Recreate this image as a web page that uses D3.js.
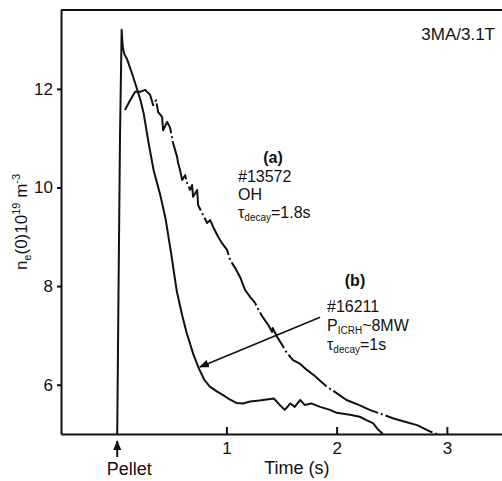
<html>
<head>
<title>Pellet density decay</title>
<script src="https://d3js.org/d3.v7.min.js" charset="utf-8"></script>
<style type="text/css">
    body { margin: 0; background: #fff; }
    text { font-family: "Liberation Sans", Arial, sans-serif; fill: #111; }
</style>
</head>
<body>
<div id="chart"></div>
<script>
    // (a) #13572 OH discharge, dash-dot curve
    var timeA = [0.08,0.127,0.172,0.218,0.263,0.308,0.336,0.363,0.381,0.417,0.426,0.463,0.49,0.517,0.553,0.562,0.58,0.599,0.626,0.644,0.671,0.689,0.698,0.735,0.744,0.78,0.825,0.853,0.88,0.925,0.961,1.007,1.034,1.079,1.125,1.17,1.215,1.26,1.29,1.33,1.38,1.415,1.42,1.46,1.505,1.55,1.605,1.67,1.73,1.8,1.85,1.91,2.0,2.09,2.2,2.3,2.4,2.51,2.62,2.73,2.85,2.91];
    var densA = [11.57,11.77,11.94,11.94,11.98,11.88,11.67,11.77,11.53,11.43,11.16,11.33,11.21,10.90,10.62,10.50,10.35,10.15,10.25,10.09,9.95,10.05,9.81,9.95,9.64,9.48,9.28,9.34,9.20,9.0,8.87,8.73,8.53,8.37,8.18,7.92,7.78,7.66,7.52,7.37,7.21,7.07,7.15,6.97,6.81,6.64,6.50,6.42,6.30,6.18,6.08,5.96,5.83,5.69,5.59,5.49,5.41,5.32,5.25,5.18,5.05,5.0];

    // (b) #16211 ICRH discharge, solid curve
    var timeB = [0.01,0.02,0.035,0.05,0.06,0.075,0.1,0.155,0.22,0.25,0.29,0.34,0.4,0.45,0.5,0.55,0.6,0.64,0.7,0.75,0.8,0.85,0.91,0.97,1.03,1.09,1.15,1.215,1.3,1.43,1.48,1.53,1.58,1.62,1.67,1.71,1.77,1.85,1.94,2.0,2.12,2.21,2.27,2.33,2.38,2.42];
    var densB = [5.0,7.5,11.0,13.2,12.85,12.7,12.6,12.24,11.78,11.5,10.96,10.35,9.85,9.35,8.65,7.9,7.4,7.05,6.62,6.33,6.1,5.96,5.87,5.79,5.7,5.63,5.62,5.66,5.68,5.72,5.6,5.49,5.62,5.55,5.69,5.59,5.62,5.55,5.49,5.43,5.39,5.35,5.28,5.22,5.08,5.0];

    var xTicks = [1, 2, 3];
    var yTicks = [6, 8, 10, 12];
    // arrow from label (b) to curve (b): [time, density]
    var arrowFrom = [1.85, 7.37];
    var arrowTo = [0.76, 6.36];

    var margin = { top: 10, right: 0, bottom: 47, left: 61 };
    var width = 502 - margin.left - margin.right;
    var height = 481 - margin.top - margin.bottom;

    var xScale = d3.scaleLinear().domain([-0.5, 3.5]).range([0, width]);
    var yScale = d3.scaleLinear().domain([5, 13.6]).range([height, 0]);

    var svg = d3.select('#chart').append('svg')
        .attr('width', 502)
        .attr('height', 481);

    svg.append('defs').append('marker')
        .attr('id', 'head')
        .attr('viewBox', '0 0 10 10')
        .attr('refX', 9).attr('refY', 5)
        .attr('markerWidth', 10).attr('markerHeight', 10)
        .attr('markerUnits', 'userSpaceOnUse')
        .attr('orient', 'auto')
        .append('path')
        .attr('d', 'M0,1 L10,5 L0,9 Z')
        .style('fill', '#111');

    var g = svg.append('g')
        .attr('transform', 'translate(' + margin.left + ',' + margin.top + ')');

    // top frame line
    g.append('line')
        .attr('x1', 0).attr('x2', width)
        .attr('y1', 0).attr('y2', 0)
        .style('stroke', '#111').style('stroke-width', 2);

    var line = d3.line()
        .x(function(d){ return xScale(d[0]); })
        .y(function(d){ return yScale(d[1]); });

    var seriesA = timeA.map(function(t, i){ return [t, densA[i]]; });
    var seriesB = timeB.map(function(t, i){ return [t, densB[i]]; });

    g.append('path')
        .datum(seriesA)
        .attr('d', line)
        .style('fill', 'none')
        .style('stroke', '#111')
        .style('stroke-width', 2)
        .style('stroke-linejoin', 'round')
        .style('stroke-dasharray', '50,3,2,3');

    g.append('path')
        .datum(seriesB)
        .attr('d', line)
        .style('fill', 'none')
        .style('stroke', '#111')
        .style('stroke-width', 2)
        .style('stroke-linejoin', 'round');

    // axes
    var yAxis = d3.axisLeft(yScale)
        .tickValues(yTicks)
        .tickFormat(d3.format('d'))
        .tickSizeInner(4)
        .tickSizeOuter(0)
        .tickPadding(4);
    var yGuide = g.append('g').call(yAxis);

    var xAxis = d3.axisBottom(xScale)
        .tickValues(xTicks)
        .tickFormat(d3.format('d'))
        .tickSizeInner(-7)
        .tickSizeOuter(0)
        .tickPadding(8);
    var xGuide = g.append('g')
        .attr('transform', 'translate(0,' + height + ')')
        .call(xAxis);

    [yGuide, xGuide].forEach(function(a){
        a.select('.domain').style('stroke', '#111').style('stroke-width', 2);
        a.selectAll('.tick line').style('stroke', '#111').style('stroke-width', 2);
        a.selectAll('.tick text')
            .style('font-family', '"Liberation Sans", Arial, sans-serif')
            .style('font-size', '17px')
            .style('fill', '#111');
    });

    // pellet arrow under the axis
    g.append('line')
        .attr('x1', xScale(0.01)).attr('x2', xScale(0.01))
        .attr('y1', height + 23).attr('y2', height + 7)
        .style('stroke', '#111').style('stroke-width', 2)
        .attr('marker-end', 'url(#head)');
    g.append('text')
        .attr('x', xScale(0.12)).attr('y', height + 41)
        .attr('text-anchor', 'middle')
        .style('font-size', '18px')
        .text('Pellet');

    g.append('text')
        .attr('x', xScale(1.64)).attr('y', height + 40)
        .attr('text-anchor', 'middle')
        .style('font-size', '18px')
        .text('Time (s)');

    // arrow to curve (b)
    g.append('line')
        .attr('x1', xScale(arrowFrom[0])).attr('y1', yScale(arrowFrom[1]))
        .attr('x2', xScale(arrowTo[0])).attr('y2', yScale(arrowTo[1]))
        .style('stroke', '#111').style('stroke-width', 1.6)
        .attr('marker-end', 'url(#head)');

    // y label
    var yl = svg.append('text')
        .attr('transform', 'translate(27,222) rotate(-90)')
        .attr('text-anchor', 'middle')
        .style('font-size', '17px');
    yl.append('tspan').text('n');
    yl.append('tspan').attr('dy', 4).style('font-size', '11px').text('e');
    yl.append('tspan').attr('dy', -4).text('(0)10');
    yl.append('tspan').attr('dy', -7).style('font-size', '11px').text('19');
    yl.append('tspan').attr('dy', 7).text(' m');
    yl.append('tspan').attr('dy', -7).style('font-size', '11px').text('-3');

    // top-right tag
    svg.append('text')
        .attr('x', 495).attr('y', 40)
        .attr('text-anchor', 'end')
        .style('font-size', '17px')
        .text('3MA/3.1T');

    // label block (a)
    svg.append('text').attr('x', 273).attr('y', 163)
        .attr('text-anchor', 'middle')
        .style('font-size', '16px').style('font-weight', 'bold')
        .text('(a)');
    svg.append('text').attr('x', 238).attr('y', 182).style('font-size', '16px').text('#13572');
    svg.append('text').attr('x', 238).attr('y', 200).style('font-size', '16px').text('OH');
    var ta = svg.append('text').attr('x', 238).attr('y', 218).style('font-size', '16px');
    ta.append('tspan').text('\u03c4');
    ta.append('tspan').attr('dy', 3).style('font-size', '10px').text('decay');
    ta.append('tspan').attr('dy', -3).text('=1.8s');

    // label block (b)
    svg.append('text').attr('x', 355).attr('y', 286)
        .attr('text-anchor', 'middle')
        .style('font-size', '16px').style('font-weight', 'bold')
        .text('(b)');
    svg.append('text').attr('x', 327).attr('y', 312).style('font-size', '16px').text('#16211');
    var tp = svg.append('text').attr('x', 327).attr('y', 331).style('font-size', '16px');
    tp.append('tspan').text('P');
    tp.append('tspan').attr('dy', 3).style('font-size', '10px').text('ICRH');
    tp.append('tspan').attr('dy', -3).text('~8MW');
    var tb = svg.append('text').attr('x', 327).attr('y', 350).style('font-size', '16px');
    tb.append('tspan').text('\u03c4');
    tb.append('tspan').attr('dy', 3).style('font-size', '10px').text('decay');
    tb.append('tspan').attr('dy', -3).text('=1s');
</script>
</body>
</html>
